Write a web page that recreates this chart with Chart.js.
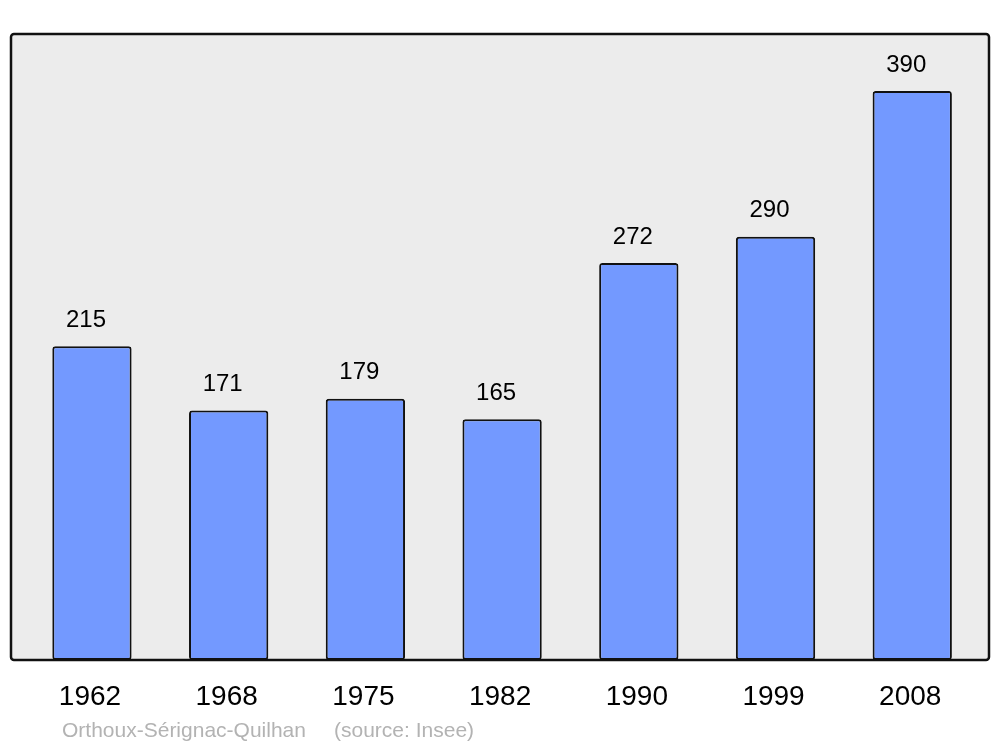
<!DOCTYPE html>
<html>
<head>
<meta charset="utf-8">
<script src="https://cdn.jsdelivr.net/npm/chart.js@4/dist/chart.umd.min.js"></script>
<style>
  html, body { margin: 0; padding: 0; background: #fff; }
  #wrap { width: 1000px; height: 747px; }
</style>
</head>
<body>
<div id="wrap"><canvas id="popChart" width="1000" height="747"></canvas></div>
<script>
// population data
const years = ['1962', '1968', '1975', '1982', '1990', '1999', '2008'];
const population = [215, 171, 179, 165, 272, 290, 390];
const yMax = 429;
const placeName = 'Orthoux-Sérignac-Quilhan';
const sourceNote = '(source: Insee)';

const FONT = '"Liberation Sans", Arial, sans-serif';

// grey frame behind the bars, outline drawn over them
const framePlugin = {
    id: 'frame',
    beforeDatasetsDraw(chart) {
        const ctx = chart.ctx;
        ctx.save();
        ctx.beginPath();
        ctx.roundRect(11, 34, 978, 626, 3);
        ctx.fillStyle = '#ececec';
        ctx.fill();
        ctx.restore();
    },
    afterDatasetsDraw(chart) {
        const ctx = chart.ctx;
        ctx.save();
        ctx.beginPath();
        ctx.roundRect(11, 34, 978, 626, 3);
        ctx.lineWidth = 2.5;
        ctx.strokeStyle = '#111';
        ctx.stroke();

        // value labels above each bar
        const meta = chart.getDatasetMeta(0);
        ctx.fillStyle = '#000';
        ctx.font = '24px ' + FONT;
        ctx.textAlign = 'center';
        ctx.textBaseline = 'middle';
        meta.data.forEach((bar, i) => {
            ctx.fillText(String(population[i]), bar.x - 6, bar.y - 26);
        });

        // source line
        ctx.fillStyle = '#b3b3b3';
        ctx.font = '21px ' + FONT;
        ctx.textAlign = 'left';
        ctx.fillText(placeName, 62, 731);
        ctx.fillText(sourceNote, 334, 731);
        ctx.restore();
    }
};

const chart = new Chart(document.getElementById('popChart'), {
    type: 'bar',
    data: {
        labels: years,
        datasets: [{
            data: population,
            backgroundColor: '#7399ff',
            borderColor: '#111',
            borderWidth: 2,
            borderSkipped: false,
            borderRadius: 3,
            barPercentage: 0.58,
            categoryPercentage: 1
        }]
    },
    options: {
        responsive: false,
        animation: false,
        layout: { padding: { left: 23.6, right: 19.4, top: 34, bottom: 0 } },
        plugins: {
            legend: { display: false },
            tooltip: { enabled: false }
        },
        scales: {
            x: {
                grid: { display: false, drawTicks: false },
                border: { display: false },
                ticks: {
                    color: '#000',
                    font: { family: FONT, size: 28 },
                    padding: 20,
                    labelOffset: -2,
                    maxRotation: 0
                },
                afterFit(scale) { scale.height = 87; }
            },
            y: {
                display: false,
                min: 0,
                max: yMax
            }
        }
    },
    plugins: [framePlugin]
});
</script>
</body>
</html>
